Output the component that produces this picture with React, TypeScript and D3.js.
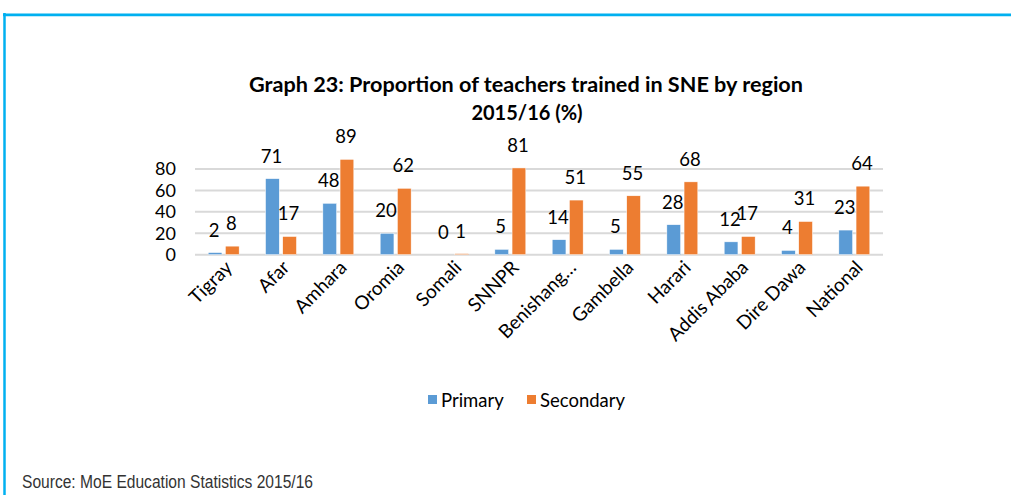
import React from "react";
import * as d3 from "d3";

const categories = [
  "Tigray",
  "Afar",
  "Amhara",
  "Oromia",
  "Somali",
  "SNNPR",
  "Benishang…",
  "Gambella",
  "Harari",
  "Addis Ababa",
  "Dire Dawa",
  "National",
];
const primary = [2, 71, 48, 20, 0, 5, 14, 5, 28, 12, 4, 23];
const secondary = [8, 17, 89, 62, 1, 81, 51, 55, 68, 17, 31, 64];
const seriesNames = ["Primary", "Secondary"];
const seriesColors = ["#5B9BD5", "#ED7D31"];
const yTicks = [0, 20, 40, 60, 80];

const W = 1011;
const H = 495;
const font = "Lato, 'Open Sans', sans-serif";

const App = () => {
  const plot = { left: 195, right: 883, top: 169, bottom: 254.7 };

  const x0 = d3
    .scaleBand<string>()
    .domain(categories)
    .range([plot.left, plot.right])
    .paddingInner(0.46)
    .paddingOuter(0.23);
  const x1 = d3
    .scaleBand<string>()
    .domain(seriesNames)
    .range([0, x0.bandwidth()])
    .paddingInner(0.2);
  const y = d3.scaleLinear().domain([0, 80]).range([plot.bottom, plot.top]);

  const series = [primary, secondary];

  return (
    <svg
      width={W}
      height={H}
      style={{ position: "absolute", left: 0, top: 0, background: "#fff" }}
    >
      {/* frame */}
      <line x1={3} x2={W} y1={13.5} y2={13.5} stroke="#a8e4f8" strokeWidth={1} />
      <line x1={3} x2={W} y1={15} y2={15} stroke="#00B0F0" strokeWidth={2.5} />
      <line x1={4.5} x2={4.5} y1={13} y2={H} stroke="#00B0F0" strokeWidth={2.5} />

      {/* title */}
      <text
        x={526}
        y={92}
        textAnchor="middle"
        fontFamily={font}
        fontWeight="bold"
        fontSize={20}
        fill="#000"
        textLength={554}
        lengthAdjust="spacingAndGlyphs"
      >
        Graph 23: Proportion of teachers trained in SNE by region
      </text>
      <text
        x={527}
        y={120}
        textAnchor="middle"
        fontFamily={font}
        fontWeight="bold"
        fontSize={20}
        fill="#000"
      >
        2015/16 (%)
      </text>

      {/* gridlines */}
      {yTicks.map((t) => (
        <line
          key={t}
          x1={plot.left}
          x2={plot.right}
          y1={y(t)}
          y2={y(t)}
          stroke="#D9D9D9"
          strokeWidth={2}
        />
      ))}
      {yTicks.map((t) => (
        <text
          key={"yt" + t}
          x={176}
          y={y(t)}
          dy="0.36em"
          textAnchor="end"
          fontFamily={font}
          fontSize={18}
          fill="#000"
        >
          {t}
        </text>
      ))}

      {/* bars */}
      {categories.map((c, i) => (
        <g key={c} transform={`translate(${x0(c)},0)`}>
          {seriesNames.map((s, j) => {
            const v = series[j][i];
            return (
              <g key={s}>
                <rect
                  x={x1(s)}
                  y={y(v)}
                  width={x1.bandwidth()}
                  height={plot.bottom - y(v)}
                  fill={seriesColors[j]}
                  stroke="#fff"
                  strokeWidth={0.5}
                />
                <text
                  x={(x1(s) as number) + x1.bandwidth() / 2 - 1}
                  y={y(v) - 16}
                  textAnchor="middle"
                  fontFamily={font}
                  fontSize={18.5}
                  fill="#000"
                >
                  {v}
                </text>
              </g>
            );
          })}
        </g>
      ))}

      {/* x labels */}
      {categories.map((c) => {
        const cx = (x0(c) as number) + x0.bandwidth() / 2;
        return (
          <text
            key={"xl" + c}
            transform={`translate(${cx + 5},${264}) rotate(-45)`}
            textAnchor="end"
            dy="0.35em"
            fontFamily={font}
            fontSize={19}
            fill="#000"
          >
            {c}
          </text>
        );
      })}

      {/* legend */}
      {seriesNames.map((s, j) => {
        const lx = [428, 527][j];
        return (
          <g key={"lg" + s}>
            <rect x={lx} y={395} width={9} height={9} fill={seriesColors[j]} />
            <text
              x={lx + 13}
              y={400}
              dy="0.36em"
              fontFamily={font}
              fontSize={18.5}
              fill="#000"
            >
              {s}
            </text>
          </g>
        );
      })}

      {/* source */}
      <text
        x={22}
        y={488}
        fontFamily="'Liberation Sans Narrow', 'Liberation Sans', sans-serif"
        fontSize={17.5}
        fill="#333"
        textLength={291}
        lengthAdjust="spacingAndGlyphs"
      >
        Source: MoE Education Statistics 2015/16
      </text>
    </svg>
  );
};

export default App;
